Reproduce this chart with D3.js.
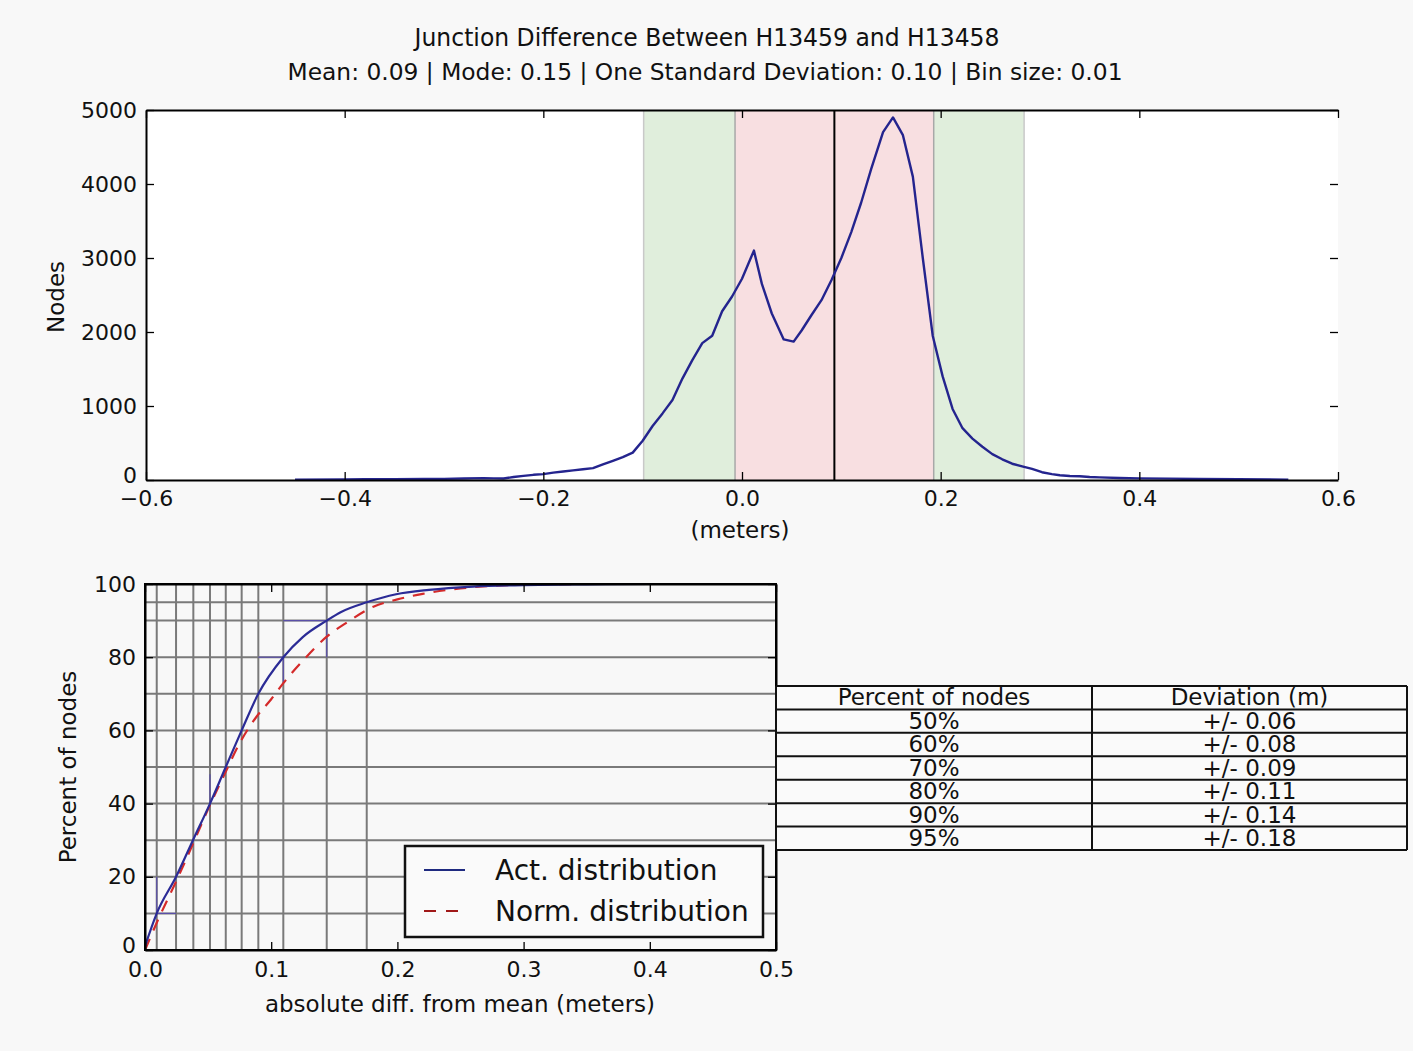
<!DOCTYPE html>
<html><head><meta charset="utf-8">
<script src="https://cdn.jsdelivr.net/npm/d3@7"></script>
<style>
body{margin:0;background:#f8f8f8;}
svg{display:block;}
text{font-family:"DejaVu Sans",sans-serif;fill:#111;}
</style>
</head><body>
<svg id="c" width="1413" height="1051"></svg>
<script>
// ---------- DATA ----------
const titleText = "Junction Difference Between H13459 and H13458";
const subtitleText = "Mean: 0.09 | Mode: 0.15 | One Standard Deviation: 0.10 | Bin size: 0.01";

// Histogram (meters, node counts)
const histX = [-0.45,-0.40,-0.38,-0.35,-0.32,-0.30,-0.28,-0.26,-0.25,-0.24,-0.23,-0.22,-0.21,-0.20,-0.19,-0.18,-0.17,-0.16,-0.15,-0.14,-0.13,-0.12,-0.11,-0.10,-0.09,-0.08,-0.07,-0.06,-0.05,-0.04,-0.03,-0.02,-0.01,0.00,0.012,0.02,0.03,0.042,0.052,0.06,0.07,0.08,0.09,0.10,0.11,0.12,0.13,0.142,0.152,0.162,0.172,0.182,0.192,0.202,0.212,0.222,0.232,0.242,0.252,0.262,0.272,0.282,0.292,0.302,0.312,0.32,0.33,0.34,0.35,0.36,0.38,0.40,0.43,0.46,0.50,0.55];
const histY = [5,8,10,12,15,15,20,25,22,20,40,55,70,80,100,115,130,145,160,210,260,310,370,530,730,900,1080,1370,1620,1850,1950,2280,2480,2720,3100,2650,2250,1900,1870,2020,2230,2430,2700,3000,3350,3750,4200,4700,4900,4660,4100,3000,1950,1400,960,700,560,450,350,280,220,185,150,105,80,65,55,50,40,35,28,22,18,14,10,5];

const meanValue = 0.093;
const pinkBand = [-0.007, 0.193];
const greenBand = [-0.099, 0.284];
const topXTicks = [-0.6,-0.4,-0.2,0.0,0.2,0.4,0.6];
const topYTicks = [0,1000,2000,3000,4000,5000];

// Cumulative distributions
const actX = [0,0.0093,0.0246,0.038,0.0515,0.064,0.0766,0.0898,0.1096,0.125,0.144,0.155,0.1757,0.199,0.225,0.26,0.30,0.35,0.40,0.50];
const actY = [1,10,20,30,40,50,60,70,80,85.5,90,92.3,95,97.2,98.4,99.3,99.7,99.9,100,100];
const normX = [0,0.01,0.025,0.038,0.05,0.063,0.075,0.0885,0.10,0.1096,0.125,0.144,0.16,0.181,0.20,0.22,0.25,0.275,0.30,0.35,0.50];
const normY = [0,8,19,29,38.5,48,56.5,63.8,68.5,72.9,79,85.6,89.5,93.8,95.8,97.3,98.8,99.5,99.8,100,100];

// Percentile grid
const gridPct = [10,20,30,40,50,60,70,80,90,95];
const gridDev = [0.0093,0.0246,0.0383,0.0515,0.064,0.0766,0.0898,0.1096,0.144,0.1757];
const botXTicks = [0.0,0.1,0.2,0.3,0.4,0.5];
const botYTicks = [0,20,40,60,80,100];

// Table
const tableHeader = ["Percent of nodes","Deviation (m)"];
const tablePct = ["50%","60%","70%","80%","90%","95%"];
const tableDev = ["+/- 0.06","+/- 0.08","+/- 0.09","+/- 0.11","+/- 0.14","+/- 0.18"];

const legendLabels = ["Act. distribution","Norm. distribution"];

// ---------- DRAW ----------
const svg = d3.select("#c");
svg.append("rect").attr("width",1413).attr("height",1051).attr("fill","#f8f8f8");

svg.append("text").attr("x",707).attr("y",46).attr("text-anchor","middle")
  .attr("font-size",25).attr("textLength",585).attr("lengthAdjust","spacingAndGlyphs").text(titleText);
svg.append("text").attr("x",705).attr("y",80).attr("text-anchor","middle")
  .attr("font-size",23).attr("textLength",835).attr("lengthAdjust","spacingAndGlyphs").text(subtitleText);

// ----- top chart -----
const xT = d3.scaleLinear().domain([-0.6,0.6]).range([146,1338]);
const yT = d3.scaleLinear().domain([0,5000]).range([480,110]);
const gTop = svg.append("g");
gTop.append("rect").attr("x",xT(-0.6)).attr("y",yT(5000)).attr("width",xT(0.6)-xT(-0.6)).attr("height",yT(0)-yT(5000)).attr("fill","#fff");

gTop.append("rect").attr("x",xT(greenBand[0])).attr("y",yT(5000)).attr("width",xT(greenBand[1])-xT(greenBand[0])).attr("height",yT(0)-yT(5000)).attr("fill","#e0eedc");
gTop.append("rect").attr("x",xT(pinkBand[0])).attr("y",yT(5000)).attr("width",xT(pinkBand[1])-xT(pinkBand[0])).attr("height",yT(0)-yT(5000)).attr("fill","#f8dfe1");
greenBand.forEach(v=>gTop.append("line").attr("x1",xT(v)).attr("x2",xT(v)).attr("y1",yT(0)).attr("y2",yT(5000)).attr("stroke","#c9c9c9").attr("stroke-width",1.5));
pinkBand.forEach(v=>gTop.append("line").attr("x1",xT(v)).attr("x2",xT(v)).attr("y1",yT(0)).attr("y2",yT(5000)).attr("stroke","#a8a8a8").attr("stroke-width",1.5));
gTop.append("line").attr("x1",xT(meanValue)).attr("x2",xT(meanValue)).attr("y1",yT(0)).attr("y2",yT(5000)).attr("stroke","#000").attr("stroke-width",2);

const histData = histX.map((x,i)=>[x,histY[i]]);
gTop.append("path").datum(histData).attr("fill","none").attr("stroke","#24248e").attr("stroke-width",2.4)
  .attr("stroke-linejoin","round")
  .attr("d",d3.line().x(d=>xT(d[0])).y(d=>yT(d[1])));

function styleAxis(g){ g.selectAll(".tick line").attr("stroke","#000").attr("stroke-width",1.3); g.selectAll("path.domain").attr("stroke","#000").attr("stroke-width",2); g.selectAll("text").attr("fill","#111").attr("font-family","DejaVu Sans"); }

gTop.append("g").attr("transform",`translate(0,${yT(0)})`)
  .call(d3.axisBottom(xT).tickValues(topXTicks).tickFormat(d3.format(".1f")).tickSizeInner(-8).tickSizeOuter(0).tickPadding(10))
  .call(styleAxis).selectAll("text").attr("font-size",22);
gTop.append("g").attr("transform",`translate(0,${yT(5000)})`)
  .call(d3.axisTop(xT).tickValues(topXTicks).tickFormat("").tickSizeInner(-8).tickSizeOuter(0))
  .call(styleAxis);
const lAxT = gTop.append("g").attr("transform",`translate(${xT(-0.6)},0)`)
  .call(d3.axisLeft(yT).tickValues(topYTicks).tickFormat(d3.format("d")).tickSizeInner(-8).tickSizeOuter(0).tickPadding(9))
  .call(styleAxis);
lAxT.selectAll("text").attr("font-size",22);
lAxT.selectAll(".tick").filter(d=>d===0).select("text").attr("dy","0.1em");
const rAx = gTop.append("g").attr("transform",`translate(${xT(0.6)},0)`)
  .call(d3.axisRight(yT).tickValues(topYTicks).tickFormat("").tickSizeInner(-8).tickSizeOuter(0))
  .call(styleAxis);
rAx.select("path.domain").remove();

svg.append("text").attr("transform",`translate(64,297) rotate(-90)`).attr("text-anchor","middle").attr("font-size",23).text("Nodes");
svg.append("text").attr("x",740).attr("y",538).attr("text-anchor","middle").attr("font-size",23).text("(meters)");

// ----- bottom chart -----
const xB = d3.scaleLinear().domain([0,0.5]).range([145,776]);
const yB = d3.scaleLinear().domain([0,100]).range([950,584]);
const gBot = svg.append("g");

gridPct.forEach(p=>gBot.append("line").attr("x1",xB(0)).attr("x2",xB(0.5)).attr("y1",yB(p)).attr("y2",yB(p)).attr("stroke","#7a7a7a").attr("stroke-width",2));
gridDev.forEach(v=>gBot.append("line").attr("x1",xB(v)).attr("x2",xB(v)).attr("y1",yB(0)).attr("y2",yB(100)).attr("stroke","#7a7a7a").attr("stroke-width",2));

// thin step markers
const stepSegs = [
  [[gridDev[0],10],[gridDev[1],10]],[[gridDev[0],10],[gridDev[0],20]],
  [[gridDev[3],40],[gridDev[3],48]],
  [[gridDev[6],80],[gridDev[7],80]],[[gridDev[7],73],[gridDev[7],80]],
  [[gridDev[7],90],[gridDev[8],90]],[[gridDev[8],80],[gridDev[8],90]]
];
stepSegs.forEach(s=>gBot.append("path").attr("fill","none").attr("stroke","#5a4fa8").attr("stroke-width",1.2)
  .attr("d",d3.line().x(d=>xB(d[0])).y(d=>yB(d[1]))(s)));

const lineB = d3.line().curve(d3.curveMonotoneX).x(d=>xB(d[0])).y(d=>yB(d[1]));
gBot.append("path").datum(normX.map((x,i)=>[x,normY[i]])).attr("fill","none").attr("stroke","#d42a2a").attr("stroke-width",2.2).attr("stroke-dasharray","12,9").attr("d",lineB);
gBot.append("path").datum(actX.map((x,i)=>[x,actY[i]])).attr("fill","none").attr("stroke","#2b2b96").attr("stroke-width",2.2).attr("d",lineB);

// frame
gBot.append("rect").attr("x",xB(0)).attr("y",yB(100)).attr("width",xB(0.5)-xB(0)).attr("height",yB(0)-yB(100)).attr("fill","none").attr("stroke","#000").attr("stroke-width",2);

gBot.append("g").attr("transform",`translate(0,${yB(0)})`)
  .call(d3.axisBottom(xB).tickValues(botXTicks).tickFormat(d3.format(".1f")).tickSizeInner(-8).tickSizeOuter(0).tickPadding(11))
  .call(styleAxis).selectAll("text").attr("font-size",22);
gBot.append("g").attr("transform",`translate(0,${yB(100)})`)
  .call(d3.axisTop(xB).tickValues(botXTicks).tickFormat("").tickSizeInner(-8).tickSizeOuter(0))
  .call(styleAxis);
const lAxB = gBot.append("g").attr("transform",`translate(${xB(0)},0)`)
  .call(d3.axisLeft(yB).tickValues(botYTicks).tickFormat(d3.format("d")).tickSizeInner(-8).tickSizeOuter(0).tickPadding(9))
  .call(styleAxis);
lAxB.selectAll("text").attr("font-size",22);
lAxB.selectAll(".tick").filter(d=>d===0).select("text").attr("dy","0.12em");
gBot.append("g").attr("transform",`translate(${xB(0.5)},0)`)
  .call(d3.axisRight(yB).tickValues(botYTicks).tickFormat("").tickSizeInner(-8).tickSizeOuter(0))
  .call(styleAxis);

svg.append("text").attr("transform",`translate(76,767) rotate(-90)`).attr("text-anchor","middle").attr("font-size",23).text("Percent of nodes");
svg.append("text").attr("x",460).attr("y",1012).attr("text-anchor","middle").attr("font-size",23).text("absolute diff. from mean (meters)");

// legend
const lg = svg.append("g");
lg.append("rect").attr("x",405).attr("y",846).attr("width",358).attr("height",91).attr("fill","#fafafa").attr("stroke","#111").attr("stroke-width",2.5);
lg.append("line").attr("x1",424).attr("x2",465).attr("y1",870).attr("y2",870).attr("stroke","#1f2a80").attr("stroke-width",2);
lg.append("line").attr("x1",424).attr("x2",465).attr("y1",911).attr("y2",911).attr("stroke","#a01818").attr("stroke-width",2).attr("stroke-dasharray","12,10");
lg.append("text").attr("x",495).attr("y",880).attr("font-size",28).text(legendLabels[0]);
lg.append("text").attr("x",495).attr("y",921).attr("font-size",28).text(legendLabels[1]);

// table
const tx = [776,1092,1407];
const ty = d3.scaleLinear().domain([0,7]).range([686,850]);
const tb = svg.append("g");
tb.append("rect").attr("x",tx[0]).attr("y",ty(0)).attr("width",tx[2]-tx[0]).attr("height",ty(7)-ty(0)).attr("fill","#fafafa");
for(let i=0;i<=7;i++) tb.append("line").attr("x1",tx[0]).attr("x2",tx[2]).attr("y1",ty(i)).attr("y2",ty(i)).attr("stroke","#111").attr("stroke-width",2);
tx.forEach(x=>tb.append("line").attr("x1",x).attr("x2",x).attr("y1",ty(0)).attr("y2",ty(7)).attr("stroke","#111").attr("stroke-width",2));
const rows = [tableHeader].concat(tablePct.map((p,i)=>[p,tableDev[i]]));
rows.forEach((r,i)=>{
  tb.append("text").attr("x",(tx[0]+tx[1])/2).attr("y",ty(i+1)-4).attr("text-anchor","middle").attr("font-size",23).text(r[0]);
  tb.append("text").attr("x",(tx[1]+tx[2])/2).attr("y",ty(i+1)-4).attr("text-anchor","middle").attr("font-size",23).text(r[1]);
});
</script>
</body></html>
